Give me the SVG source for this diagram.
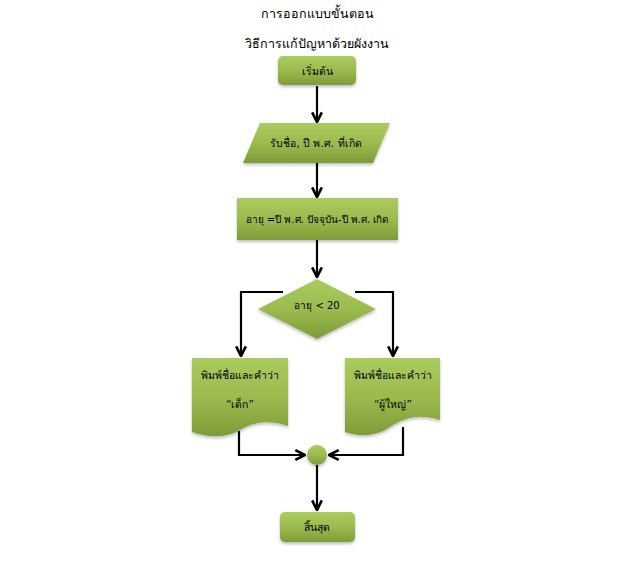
<svg xmlns="http://www.w3.org/2000/svg" width="638" height="587" viewBox="0 0 638 587">
<style>
.t{font-family:"DejaVu Sans","Noto Sans",sans-serif;font-size:10.5px;fill:#000;text-anchor:middle}
.h{font-size:12.5px}
.s{font-size:10px}
.shape{fill:url(#g);filter:url(#sh)}
.c{fill:none;stroke:#000;stroke-width:2.2;marker-end:url(#a)}
</style>
<defs>
<linearGradient id="g" x1="0" y1="0" x2="0" y2="1">
<stop offset="0" stop-color="#aacb5e"/>
<stop offset="0.5" stop-color="#9bbb4f"/>
<stop offset="1" stop-color="#7d9c38"/>
</linearGradient>
<filter id="sh" x="-20%" y="-20%" width="140%" height="150%">
<feDropShadow dx="0" dy="2" stdDeviation="1.6" flood-color="#000" flood-opacity="0.25"/>
</filter>
<marker id="a" viewBox="0 0 10 10" refX="9" refY="5" markerWidth="5.5" markerHeight="5.5" orient="auto" markerUnits="strokeWidth">
<path d="M1,1 L9,5 L1,9" fill="none" stroke="#000" stroke-width="2.2"/>
</marker>
</defs>
<g id="title">
<text class="t h" x="317" y="18">การออกแบบขั้นตอน</text>
<text class="t h" x="317" y="48">วิธีการแก้ปัญหาด้วยผังงาน</text>
</g>
<g id="connectors">
<path class="c" d="M317,86 V122"/>
<path class="c" d="M317,163 V197"/>
<path class="c" d="M317,240 V277"/>
<path class="c" d="M283,292 H241 V356"/>
<path class="c" d="M355,292 H393 V356"/>
<path class="c" d="M239,431 V455 H305"/>
<path class="c" d="M403,427 V455 H329"/>
<path class="c" d="M317,465 V510"/>
</g>
<g id="start">
<rect class="shape" x="278" y="56" width="78" height="29" rx="5"/>
<text class="t" x="317" y="75">เริ่มต้น</text>
</g>
<g id="input">
<polygon class="shape" points="260,123 390,123 373,163 243,163"/>
<text class="t" x="316" y="147">รับชื่อ, ปี พ.ศ. ที่เกิด</text>
</g>
<g id="process">
<rect class="shape" x="237" y="198" width="161" height="42"/>
<text class="t s" x="317" y="223">อายุ =ปี พ.ศ. ปัจจุบัน-ปี พ.ศ. เกิด</text>
</g>
<g id="decision">
<polygon class="shape" points="317,279 376,309 317,339 258,309"/>
<text class="t s" x="317" y="309">อายุ &lt; 20</text>
</g>
<g id="doc-child">
<path class="shape" d="M192,358 H288 V426 C266,419 252,423 240,430 C224,439 207,437 192,432 Z"/>
<text class="t" x="240" y="379">พิมพ์ชื่อและคำว่า</text>
<text class="t" x="240" y="408">“เด็ก”</text>
</g>
<g id="doc-adult">
<path class="shape" d="M345,358 H440 V420 C418,413 405,418 393,425 C377,437 360,437 345,432 Z"/>
<text class="t" x="393" y="379">พิมพ์ชื่อและคำว่า</text>
<text class="t" x="393" y="408">“ผู้ใหญ่”</text>
</g>
<g id="connector-node">
<circle class="shape" cx="317" cy="455" r="10"/>
</g>
<g id="end">
<rect class="shape" x="280" y="512" width="75" height="30" rx="5"/>
<text class="t" x="317" y="531">สิ้นสุด</text>
</g>
</svg>
